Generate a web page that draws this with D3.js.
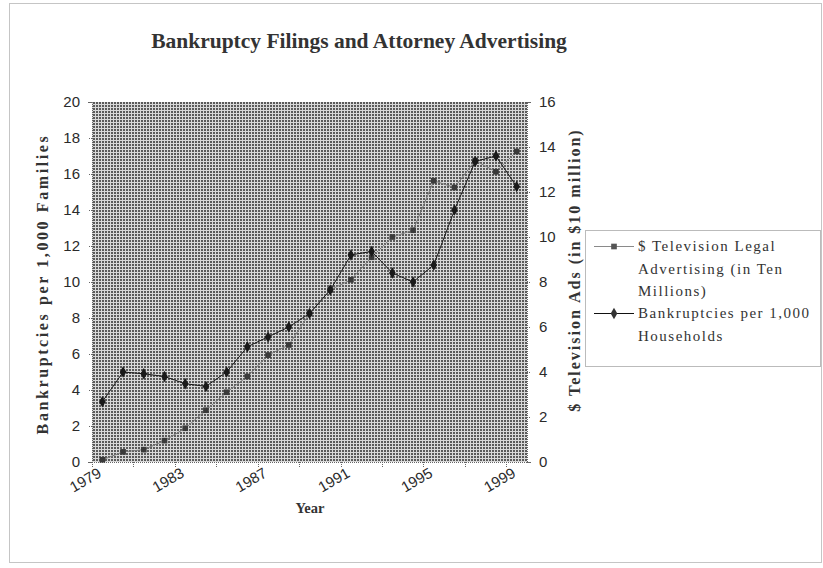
<!DOCTYPE html>
<html>
<head>
<meta charset="utf-8">
<script src="https://cdn.jsdelivr.net/npm/d3@7"></script>
<style>
  html, body { margin: 0; padding: 0; background: #fff; }
  svg { display: block; }
</style>
</head>
<body>
<svg id="chart" width="823" height="568"></svg>
<script>
// Years on the category axis
const years = [1979, 1980, 1981, 1982, 1983, 1984, 1985, 1986, 1987, 1988, 1989,
               1990, 1991, 1992, 1993, 1994, 1995, 1996, 1997, 1998, 1999];
// Bankruptcies per 1,000 households (left axis)
const bankruptcies = [3.35, 5.0, 4.9, 4.75, 4.35, 4.2, 5.0, 6.4, 6.95, 7.5, 8.25,
                      9.55, 11.5, 11.7, 10.5, 10.0, 10.95, 14.0, 16.7, 17.0, 15.3];
// Television legal advertising, in ten millions of dollars (right axis)
const tvAds = [0.1, 0.45, 0.55, 0.95, 1.5, 2.3, 3.1, 3.8, 4.75, 5.2, 6.6,
               7.65, 8.1, 9.1, 10.0, 10.3, 12.5, 12.2, 13.4, 12.9, 13.8];
// Axis ticks and labels
const leftTicks = [0, 2, 4, 6, 8, 10, 12, 14, 16, 18, 20];
const rightTicks = [0, 2, 4, 6, 8, 10, 12, 14, 16];
const yearLabels = [1979, 1983, 1987, 1991, 1995, 1999];

const svg = d3.select("#chart");
const serif = "'Liberation Serif', 'Times New Roman', serif";
const sans = "'Liberation Sans', Arial, sans-serif";

const plot = { left: 92, right: 527, top: 102, bottom: 462 };

const x = d3.scaleBand().domain(years).range([plot.left, plot.right]).paddingInner(0).paddingOuter(0);
const yL = d3.scaleLinear().domain([0, 20]).range([plot.bottom, plot.top]);
const yR = d3.scaleLinear().domain([0, 16]).range([plot.bottom, plot.top]);
const cx = d => x(d) + x.bandwidth() / 2;

// Halftone fill for the plot area
const defs = svg.append("defs");
const pat = defs.append("pattern")
  .attr("id", "halftone").attr("patternUnits", "userSpaceOnUse")
  .attr("width", 3).attr("height", 3);
pat.append("rect").attr("width", 3).attr("height", 3).attr("fill", "#d8d8d8");
pat.append("rect").attr("width", 2).attr("height", 2).attr("fill", "#5a5a5a");

// Outer chart frame
svg.append("rect")
  .attr("x", 9.5).attr("y", 3.5).attr("width", 812).attr("height", 559)
  .attr("fill", "none").attr("stroke", "#8a8a8a").attr("stroke-width", 1)
  .attr("stroke-dasharray", "1,1");

// Title
svg.append("text")
  .attr("x", 359).attr("y", 48)
  .attr("text-anchor", "middle")
  .attr("font-family", serif).attr("font-weight", "bold").attr("font-size", 21.5)
  .attr("fill", "#333")
  .text("Bankruptcy Filings and Attorney Advertising");

// Plot area
svg.append("rect")
  .attr("x", plot.left).attr("y", plot.top)
  .attr("width", plot.right - plot.left).attr("height", plot.bottom - plot.top)
  .attr("fill", "url(#halftone)");

// Left axis
const gL = svg.append("g").attr("transform", `translate(${plot.left},0)`)
  .call(d3.axisLeft(yL).tickValues(leftTicks).tickSize(4).tickPadding(8).tickFormat(d3.format("d")));
// Right axis
const gR = svg.append("g").attr("transform", `translate(${plot.right},0)`)
  .call(d3.axisRight(yR).tickValues(rightTicks).tickSize(4).tickPadding(8).tickFormat(d3.format("d")));

[gL, gR].forEach(g => {
  g.select(".domain").attr("stroke", "#666").attr("stroke-dasharray", "1,1");
  g.selectAll(".tick line").attr("stroke", "#666").attr("stroke-dasharray", "1,1");
  g.selectAll(".tick text")
    .attr("font-family", sans).attr("font-size", 15).attr("fill", "#2a2a2a");
});

// Bottom axis: tick marks every two years, labels every four
const gB = svg.append("g").attr("transform", `translate(0,${plot.bottom})`);
gB.append("line")
  .attr("x1", plot.left).attr("x2", plot.right).attr("y1", 0.5).attr("y2", 0.5)
  .attr("stroke", "#666").attr("stroke-dasharray", "1,1");
gB.selectAll("line.tk")
  .data(years.filter((d, i) => i % 2 === 0))
  .join("line").attr("class", "tk")
  .attr("x1", d => Math.round(x(d)) + 0.5).attr("x2", d => Math.round(x(d)) + 0.5)
  .attr("y1", 0).attr("y2", 5)
  .attr("stroke", "#666").attr("stroke-dasharray", "1,1");
gB.selectAll("text")
  .data(yearLabels)
  .join("text")
  .attr("transform", d => `translate(${cx(d)},${14}) rotate(-30)`)
  .attr("text-anchor", "end")
  .attr("font-family", sans).attr("font-size", 15).attr("fill", "#2a2a2a")
  .text(d => d);

// Axis titles
svg.append("text")
  .attr("transform", `translate(48,284) rotate(-90)`)
  .attr("text-anchor", "middle")
  .attr("font-family", serif).attr("font-weight", "bold").attr("font-size", 16)
  .attr("letter-spacing", 2.6).attr("fill", "#333")
  .text("Bankruptcies per 1,000 Families");

svg.append("text")
  .attr("transform", `translate(580,270) rotate(-90)`)
  .attr("text-anchor", "middle")
  .attr("font-family", serif).attr("font-weight", "bold").attr("font-size", 16)
  .attr("letter-spacing", 2.0).attr("fill", "#333")
  .text("$ Television Ads (in $10 million)");

svg.append("text")
  .attr("x", 310).attr("y", 513)
  .attr("text-anchor", "middle")
  .attr("font-family", serif).attr("font-weight", "bold").attr("font-size", 14.5)
  .attr("fill", "#333")
  .text("Year");

// Series lines
const lineL = d3.line().x((d, i) => cx(years[i])).y(d => yL(d));
const lineR = d3.line().x((d, i) => cx(years[i])).y(d => yR(d));

svg.append("path").attr("d", lineR(tvAds))
  .attr("fill", "none").attr("stroke", "#7a7a7a").attr("stroke-width", 1);
svg.append("path").attr("d", lineL(bankruptcies))
  .attr("fill", "none").attr("stroke", "#1a1a1a").attr("stroke-width", 1);

// Markers
const square = d3.symbol().type(d3.symbolSquare).size(32);
const diamond = d3.symbol().type(d3.symbolDiamond).size(38);

svg.append("g").selectAll("path")
  .data(tvAds).join("path")
  .attr("transform", (d, i) => `translate(${cx(years[i])},${yR(d)})`)
  .attr("d", square).attr("fill", "#3a3a3a");

svg.append("g").selectAll("path")
  .data(bankruptcies).join("path")
  .attr("transform", (d, i) => `translate(${cx(years[i])},${yL(d)})`)
  .attr("d", diamond).attr("fill", "#1a1a1a");

// Legend
const lg = svg.append("g");
lg.append("rect")
  .attr("x", 585.5).attr("y", 230.5).attr("width", 235).attr("height", 136)
  .attr("fill", "#fff").attr("stroke", "#777").attr("stroke-dasharray", "1,1");

const legendItems = [
  { lines: ["$ Television Legal", "Advertising (in Ten", "Millions)"], y: 246, color: "#8a8a8a", sym: square, fill: "#555" },
  { lines: ["Bankruptcies per 1,000", "Households"], y: 313, color: "#111", sym: diamond, fill: "#333" }
];
legendItems.forEach(it => {
  lg.append("line")
    .attr("x1", 594).attr("x2", 634).attr("y1", it.y + 0.5).attr("y2", it.y + 0.5)
    .attr("stroke", it.color).attr("stroke-width", 1.2);
  lg.append("path")
    .attr("transform", `translate(614,${it.y + 0.5})`)
    .attr("d", it.sym).attr("fill", it.fill);
  const t = lg.append("text")
    .attr("font-family", serif).attr("font-size", 15).attr("letter-spacing", 1.5)
    .attr("fill", "#333");
  it.lines.forEach((s, k) => {
    t.append("tspan").attr("x", 638).attr("y", it.y + 5 + k * 22.5).text(s);
  });
});
</script>
</body>
</html>
